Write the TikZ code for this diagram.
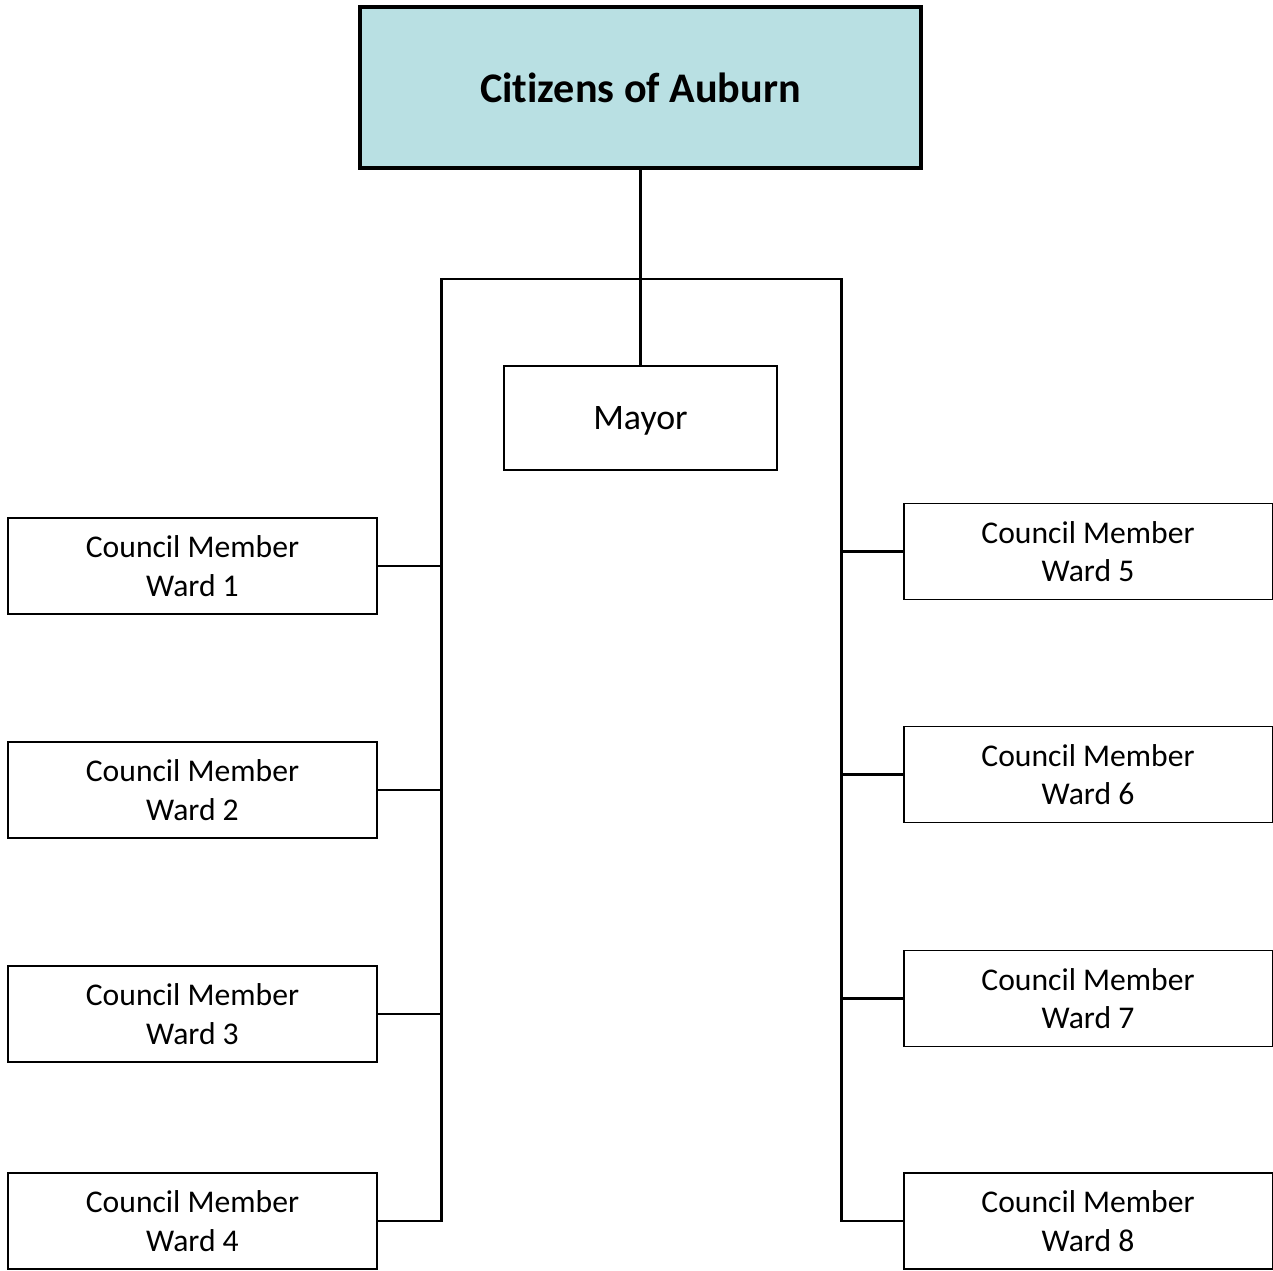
\documentclass[tikz,border=0pt]{standalone}
\usepackage{fontspec}
\setmainfont{Carlito}[Ligatures=NoCommon]
\definecolor{citizenfill}{HTML}{B9E0E3}
\begin{document}
\begin{tikzpicture}[x=0.02cm,y=-0.02cm,
		ward/.style={draw,line width=1.1pt,minimum width=7.38cm,minimum height=1.92cm,inner sep=0pt,align=center,font=\fontsize{18}{22}\selectfont},
		bus/.style={line width=1.7pt}]
	\useasboundingbox (0,0) rectangle (1273,1270);
	\node[draw,line width=2.3pt,fill=citizenfill,minimum width=11.22cm,minimum height=3.22cm,font=\fontsize{24}{28}\selectfont\bfseries] (citizens) at (640.5,87.5){Citizens of Auburn};
	\node[draw,line width=1.1pt,minimum width=5.46cm,minimum height=2.08cm,text depth=0pt,font=\fontsize{20.4}{24}\selectfont] (mayor) at (640.5,418){Mayor};
	\node[ward] (w1) at (192.5,566){Council Member\\Ward 1};
	\node[ward] (w2) at (192.5,790){Council Member\\Ward 2};
	\node[ward] (w3) at (192.5,1014){Council Member\\Ward 3};
	\node[ward] (w4) at (192.5,1221){Council Member\\Ward 4};
	\node[ward] (w5) at (1088,551.5){Council Member\\Ward 5};
	\node[ward] (w6) at (1088,774.5){Council Member\\Ward 6};
	\node[ward] (w7) at (1088,998.5){Council Member\\Ward 7};
	\node[ward] (w8) at (1088,1221){Council Member\\Ward 8};
	\coordinate (busL) at (441,279);
	\coordinate (busR) at (841,279);
	\coordinate (endL) at (441,1222);
	\coordinate (endR) at (841,1222);
	\draw[bus] (citizens.south)--(mayor.north);
	\draw[bus] (endL)--(busL)--(busR)--(endR);
	\foreach \w in {w1,w2,w3,w4}
		\draw[line width=1.4pt] (\w.east)--(\w.east -| busL);
	\foreach \w in {w5,w6,w7,w8}
		\draw[line width=1.4pt] (\w.west)--(\w.west -| busR);
\end{tikzpicture}
\end{document}
